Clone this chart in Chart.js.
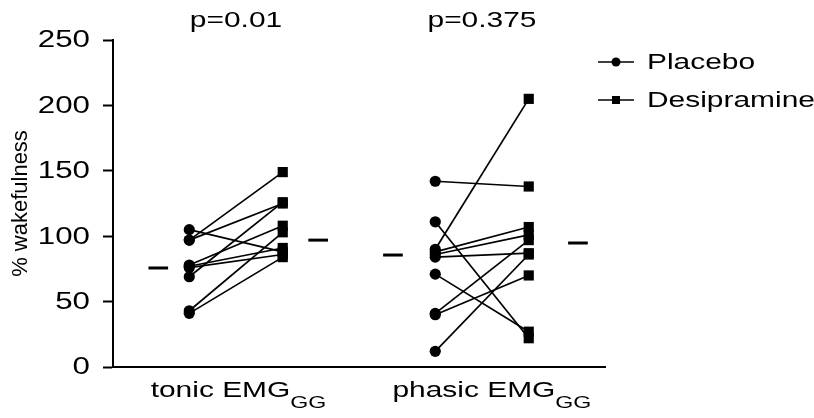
<!DOCTYPE html>
<html>
<head>
<meta charset="utf-8">
<script src="https://cdn.jsdelivr.net/npm/chart.js@4/dist/chart.umd.min.js"></script>
<style>
  html, body { margin: 0; padding: 0; background: #fff; }
  #wrap { width: 814px; height: 418px; }
</style>
</head>
<body>
<div id="wrap"><canvas id="chart"></canvas></div>
<script>
// datos (% wakefulness, un sujeto por posición)
const groups = ['tonic EMG', 'phasic EMG'];
const groupSub = ['GG', 'GG'];
const pValues = ['p=0.01', 'p=0.375'];
const seriesNames = ['Placebo', 'Desipramine'];

const tonicPlacebo = [105, 97, 97, 78, 77, 76, 69, 43, 41];
const tonicDesip   = [88, 149, 125, 108, 91, 86, 126, 103, 84];
const phasicPlacebo = [142, 111, 90, 88, 86, 84, 71, 41, 40, 12];
const phasicDesip   = [138, 22, 205, 107, 101, 87, 27, 97, 70, 86];

// barras de resumen (placebo, desipramina) por grupo
const tonicSummary = [75.7, 97];
const phasicSummary = [85.6, 94.8];

const yTicks = [0, 50, 100, 150, 200, 250];

// posiciones en el eje x (0..10)
const colPos = [[1.55, 3.45], [6.55, 8.45]];
const dashPos = [[0.92, 4.17], [5.69, 9.45]];
const labelPos = [2.55, 7.7];
const pPos = [2.5, 7.5];
const dashHalf = 0.2;

const FONT = '"Liberation Sans", Arial, Helvetica, sans-serif';
const SX = 1.36; // el texto del original está ensanchado

const datasets = [];
function addPairs(pl, de, pos) {
    pl.forEach((v, i) => {
        datasets.push({
            data: [{x: pos[0], y: v}, {x: pos[1], y: de[i]}],
            borderColor: '#000',
            backgroundColor: '#000',
            borderWidth: 1.7,
            pointStyle: ['circle', 'rect'],
            pointRadius: [5.6, 7.2],
            pointBorderWidth: 0,
            pointHoverRadius: [5.6, 7.2]
        });
    });
}
function addDash(val, x) {
    datasets.push({
        data: [{x: x - dashHalf, y: val}, {x: x + dashHalf, y: val}],
        borderColor: '#000',
        borderWidth: 3,
        pointRadius: 0,
        borderCapStyle: 'butt'
    });
}
addPairs(tonicPlacebo, tonicDesip, colPos[0]);
addPairs(phasicPlacebo, phasicDesip, colPos[1]);
addDash(tonicSummary[0], dashPos[0][0]);
addDash(tonicSummary[1], dashPos[0][1]);
addDash(phasicSummary[0], dashPos[1][0]);
addDash(phasicSummary[1], dashPos[1][1]);

// texto ensanchado en horizontal
function wideText(ctx, text, x, y, align, size) {
    ctx.font = size + 'px ' + FONT;
    const w = ctx.measureText(text).width * SX;
    let left = x;
    if (align === 'center') left = x - w / 2;
    if (align === 'right') left = x - w;
    ctx.save();
    ctx.translate(left, y);
    ctx.scale(SX, 1);
    ctx.textAlign = 'left';
    ctx.fillText(text, 0, 0);
    ctx.restore();
    return w;
}
function textWidth(ctx, text, size) {
    ctx.font = size + 'px ' + FONT;
    return ctx.measureText(text).width * SX;
}

const extraText = {
    id: 'extraText',
    afterDraw(chart) {
        const ctx = chart.ctx;
        const xs = chart.scales.x;
        const ys = chart.scales.y;
        const area = chart.chartArea;
        ctx.save();
        ctx.fillStyle = '#000';

        // etiquetas del eje y
        ctx.textBaseline = 'middle';
        ys.ticks.forEach(t => {
            wideText(ctx, String(t.value), ys.right - 23, ys.getPixelForValue(t.value) + 1, 'right', 23);
        });

        ctx.textBaseline = 'alphabetic';
        groups.forEach((g, i) => {
            const cx = xs.getPixelForValue(labelPos[i]);
            const w1 = textWidth(ctx, g, 22);
            const w2 = textWidth(ctx, groupSub[i], 17);
            const x0 = cx - (w1 + w2) / 2;
            wideText(ctx, g, x0, area.bottom + 30, 'left', 22);
            wideText(ctx, groupSub[i], x0 + w1, area.bottom + 41, 'left', 17);
            wideText(ctx, pValues[i], xs.getPixelForValue(pPos[i]), area.top - 13, 'center', 22);
        });

        // leyenda
        const lx = area.right - 7;
        const rows = [area.top + 22, area.top + 60];
        seriesNames.forEach((name, i) => {
            const y = rows[i];
            ctx.strokeStyle = '#000';
            ctx.lineWidth = 1.7;
            ctx.beginPath();
            ctx.moveTo(lx, y);
            ctx.lineTo(lx + 36, y);
            ctx.stroke();
            ctx.beginPath();
            if (i === 0) {
                ctx.arc(lx + 18, y, 4.5, 0, Math.PI * 2);
            } else {
                ctx.rect(lx + 14, y - 4, 8, 8);
            }
            ctx.fill();
            ctx.textBaseline = 'middle';
            wideText(ctx, name, lx + 49, y + 1, 'left', 22);
        });
        ctx.restore();
    }
};

new Chart(document.getElementById('chart'), {
    type: 'line',
    data: { datasets },
    options: {
        responsive: true,
        maintainAspectRatio: false,
        animation: false,
        events: [],
        layout: { padding: { top: 40, right: 209, left: 0, bottom: 0 } },
        plugins: {
            legend: { display: false },
            tooltip: { enabled: false }
        },
        scales: {
            x: {
                type: 'linear',
                min: 0,
                max: 10,
                grid: { display: false },
                ticks: { display: false },
                border: { display: true, color: '#000', width: 2 },
                afterFit: s => { s.height = 51; }
            },
            y: {
                type: 'linear',
                min: 0,
                max: 250,
                afterBuildTicks: s => { s.ticks = yTicks.map(v => ({ value: v })); },
                ticks: { display: false },
                grid: {
                    display: true,
                    drawOnChartArea: false,
                    drawTicks: true,
                    tickLength: 10,
                    tickWidth: 2,
                    tickColor: '#000'
                },
                border: { display: true, color: '#000', width: 2 },
                title: {
                    display: true,
                    text: '% wakefulness',
                    color: '#000',
                    font: { family: FONT, size: 22 },
                    padding: { top: 8, bottom: 0 }
                },
                afterFit: s => { s.width = 113; }
            }
        }
    },
    plugins: [extraText]
});
</script>
</body>
</html>
